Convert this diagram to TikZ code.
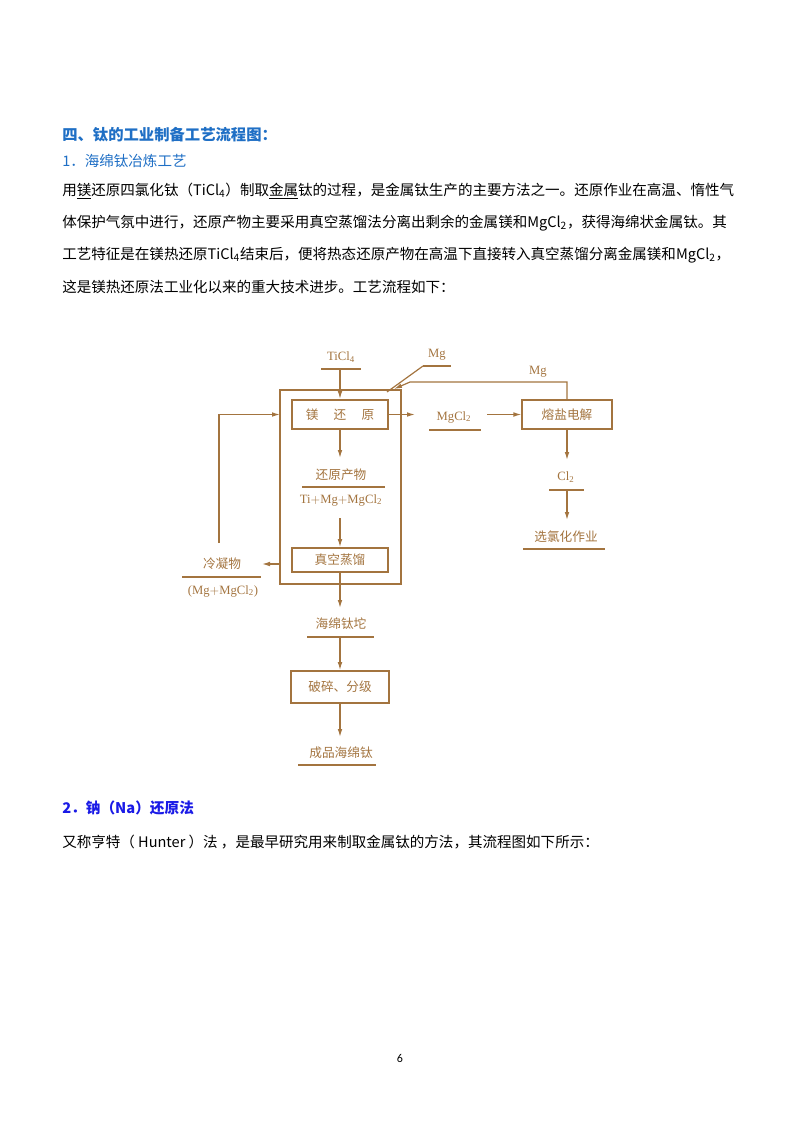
\documentclass[tikz,border=0pt]{standalone}
\usepackage{fontspec}
\setmainfont{Liberation Serif}
\newfontfamily\cjk{Noto Sans CJK SC}
\newfontfamily\lat{Carlito}
\usetikzlibrary{arrows.meta}
\definecolor{br}{HTML}{A3743F}
\definecolor{hb}{HTML}{1F6FC5}
\definecolor{bb}{HTML}{1A1AE6}
\tikzset{
 body/.style={anchor=west,inner sep=0,font=\cjk\fontsize{10.9}{12}\selectfont},
 pbox/.style={draw=br,line width=1.3pt,text=br,font=\cjk\fontsize{9.5}{11}\selectfont,inner sep=0},
 lab/.style={text=br,font=\cjk\fontsize{9.5}{11}\selectfont,inner sep=1pt},
 ltn/.style={text=br,font=\fontsize{9.5}{11}\selectfont,inner sep=1pt},
 fl/.style={draw=br,line width=0.9pt},
 ar/.style={draw=br,line width=0.9pt,-{Latex[length=6pt,width=3.5pt]}}
}
\begin{document}
\begin{tikzpicture}[x=0.75pt,y=-0.75pt]
\useasboundingbox (0,0) rectangle (800,1132);
\node[anchor=west,inner sep=0,text=hb,font=\cjk\bfseries\fontsize{11.5}{13}\selectfont] (h1) at (62,135) {四、钛的工业制备工艺流程图：};
\node[anchor=west,inner sep=0,text=hb,font=\cjk\fontsize{10.9}{12}\selectfont] (h2) at (62,161) {1．海绵钛冶炼工艺};
\node[body] (p1) at (62,191) {用\underline{镁}还原四氯化钛（TiCl\textsubscript{4}）制取\underline{金属}钛的过程，是金属钛生产的主要方法之一。还原作业在高温、惰性气};
\node[body] (p2) at (62,223) {体保护气氛中进行，还原产物主要采用真空蒸馏法分离出剩余的金属镁和MgCl\textsubscript{2}，获得海绵状金属钛。其};
\node[body] (p3) at (62,255) {工艺特征是在镁热还原TiCl\textsubscript{4}结束后，便将热态还原产物在高温下直接转入真空蒸馏分离金属镁和MgCl\textsubscript{2}，};
\node[body] (p4) at (62,287) {这是镁热还原法工业化以来的重大技术进步。工艺流程如下：};
\node[anchor=west,inner sep=0,text=bb,font=\cjk\bfseries\fontsize{11}{13}\selectfont] (h3) at (62,808) {2．钠（Na）还原法};
\node[body] (p5) at (62,842) {又称亨特（ Hunter ）法 ，是最早研究用来制取金属钛的方法，其流程图如下所示：};
\node[inner sep=0,font=\lat\fontsize{9}{10}\selectfont] (pg) at (400,1058) {6};

% diagram
\draw[fl] (280,390) rectangle (401,584);
\node[pbox,minimum width=72pt,minimum height=22pt] (mg) at (340,414.5) {镁\hspace{1.2em}还\hspace{1.2em}原};
\node[pbox,minimum width=72pt,minimum height=18pt] (zk) at (340,560) {真空蒸馏};
\node[pbox,minimum width=73pt,minimum height=24pt] (ps) at (340,687) {破碎、分级};
\node[pbox,minimum width=67pt,minimum height=22pt] (rj) at (567,414.5) {熔盐电解};
\node[ltn] (ti) at (341,357) {TiCl\textsubscript{4}};
\draw[fl] (321,369) -- (361,369);
\node[ltn] (mgt) at (437,355) {Mg};
\draw[fl] (423,366) -- (451,366);
\coordinate (mgs) at (423,366);
\node[ltn] (mg2) at (538,372) {Mg};
\node[ltn] (mc) at (454,417) {MgCl\textsubscript{2}};
\draw[fl] (429,430) -- (481,430);
\node[ltn] (cl) at (566,477) {Cl\textsubscript{2}};
\draw[fl] (549,490) -- (584,490);
\node[lab] (xl) at (566,537) {选氯化作业};
\draw[fl] (523,549) -- (605,549);
\node[lab] (hc) at (341,475) {还原产物};
\draw[fl] (302,487) -- (385,487);
\node[ltn] (hm) at (341,500) {Ti$+$Mg$+$MgCl\textsubscript{2}};
\node[lab] (ln) at (222,564) {冷凝物};
\draw[fl] (182,577) -- (261,577);
\node[ltn] (lm) at (223,591) {(Mg$+$MgCl\textsubscript{2})};
\node[lab] (ht) at (341,624) {海绵钛坨};
\draw[fl] (307,637) -- (374,637);
\node[lab] (cp) at (341,753) {成品海绵钛};
\draw[fl] (298,765) -- (376,765);

\coordinate (c1) at (340,369);
\draw[ar] (c1) -- (mg.north);
\draw[fl] (mgs) -- (387,392);
\draw[ar] (rj.north) -- (567,382) -- (410,382) -- (394,389);
\draw[ar] (mg.east) -- (415,414.5);
\draw[ar] (487,414.5) -- (rj.west);
\draw[ar] (rj.south) -- (567,460);
\draw[ar] (567,490) -- (567,520);
\draw[ar] (mg.south) -- (340,458);
\draw[ar] (340,518) -- (zk.north);
\draw[ar] (219,543) -- (219,414.5) -- (280,414.5);
\draw[ar] (280,564) -- (262,564);
\draw[ar] (zk.south) -- (340,608);
\draw[ar] (340,637) -- (ps.north);
\draw[ar] (ps.south) -- (340,737);
\end{tikzpicture}
\end{document}
